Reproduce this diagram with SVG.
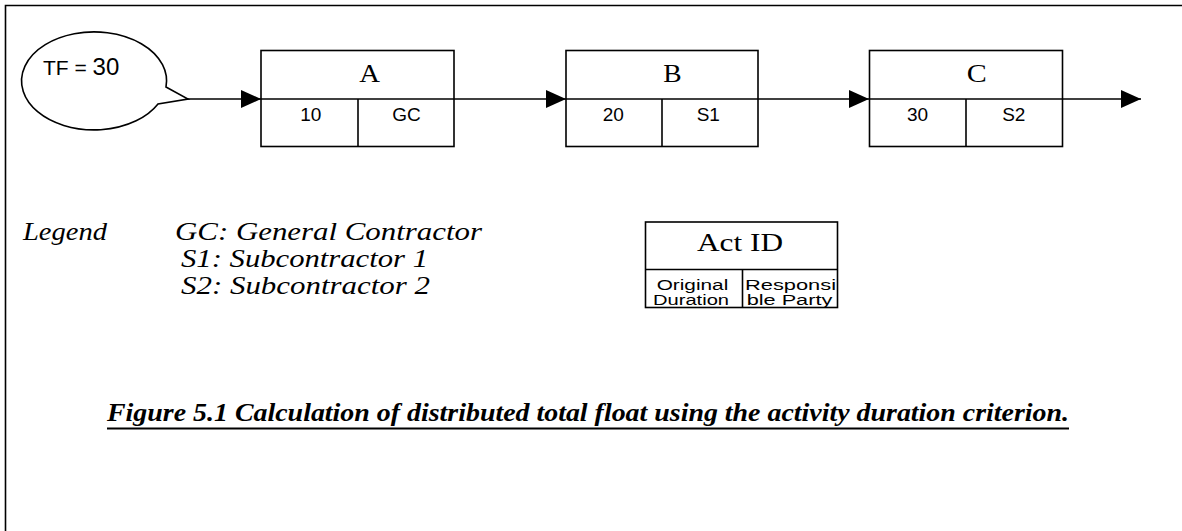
<svg xmlns="http://www.w3.org/2000/svg" width="1182" height="531" viewBox="0 0 1182 531">
<style>
.ln{stroke:#000;stroke-width:1.6;fill:none}
.bx{stroke:#000;stroke-width:1.6;fill:#fff}
.sans{font-family:"Liberation Sans",Arial,sans-serif;fill:#000}
.serif{font-family:"Liberation Serif","Times New Roman",serif;fill:#000}
.id{font-size:26px}
.num{font-size:19px;text-anchor:middle}
.key{font-size:14px}
.leg{font-size:26px;font-style:italic}
</style>
<defs>
<marker id="ah" markerWidth="20" markerHeight="18" refX="20" refY="9" orient="auto" markerUnits="userSpaceOnUse">
<path d="M0,0 L20,9 L0,18 Z" fill="#000"/>
</marker>
</defs>
<rect width="1182" height="531" fill="#fff"/>
<path class="ln" d="M5.5,531 L5.5,5.5 L1182,5.5" stroke-width="2"/>
<g id="callout">
<path class="bx" d="M166,87 L188,99 L158,104 A72.5,49 0 1 1 166,87 Z"/>
<text class="sans" x="43" y="75"><tspan font-size="21">TF = </tspan><tspan font-size="24">30</tspan></text>
</g>
<g id="connectors">
<line class="ln" x1="188" y1="99" x2="261" y2="99" marker-end="url(#ah)"/>
<line class="ln" x1="454" y1="99" x2="566" y2="99" marker-end="url(#ah)"/>
<line class="ln" x1="758" y1="99" x2="869" y2="99" marker-end="url(#ah)"/>
<line class="ln" x1="1062" y1="99" x2="1141" y2="99" marker-end="url(#ah)"/>
</g>
<g id="nodeA">
<rect class="bx" x="261" y="50.5" width="193" height="96"/>
<line class="ln" x1="261" y1="99" x2="454" y2="99"/>
<line class="ln" x1="358" y1="99" x2="358" y2="146.5"/>
<text class="serif id" x="359.3" y="81.7" textLength="20.7" lengthAdjust="spacingAndGlyphs">A</text>
<text class="sans num" x="310.8" y="120.5">10</text>
<text class="sans num" x="406.5" y="120.5">GC</text>
</g>
<g id="nodeB">
<rect class="bx" x="566" y="50.5" width="192" height="96"/>
<line class="ln" x1="566" y1="99" x2="758" y2="99"/>
<line class="ln" x1="662" y1="99" x2="662" y2="146.5"/>
<text class="serif id" x="663.3" y="81.7" textLength="18.4" lengthAdjust="spacingAndGlyphs">B</text>
<text class="sans num" x="613.3" y="120.5">20</text>
<text class="sans num" x="708.3" y="120.5">S1</text>
</g>
<g id="nodeC">
<rect class="bx" x="869.5" y="50.5" width="193" height="96"/>
<line class="ln" x1="869.5" y1="99" x2="1062.5" y2="99"/>
<line class="ln" x1="966" y1="99" x2="966" y2="146.5"/>
<text class="serif id" x="966.7" y="81.7" textLength="20" lengthAdjust="spacingAndGlyphs">C</text>
<text class="sans num" x="917.5" y="120.5">30</text>
<text class="sans num" x="1013.8" y="120.5">S2</text>
</g>
<g id="legend">
<text class="serif leg" x="23" y="240" textLength="84" lengthAdjust="spacingAndGlyphs">Legend</text>
<text class="serif leg" x="175" y="240" textLength="307" lengthAdjust="spacingAndGlyphs">GC: General Contractor</text>
<text class="serif leg" x="181" y="267" textLength="247" lengthAdjust="spacingAndGlyphs">S1: Subcontractor 1</text>
<text class="serif leg" x="181" y="294" textLength="249" lengthAdjust="spacingAndGlyphs">S2: Subcontractor 2</text>
</g>
<g id="keyNode">
<rect class="bx" x="645.5" y="222" width="192" height="85.5"/>
<line class="ln" x1="645.5" y1="269.5" x2="837.5" y2="269.5"/>
<line class="ln" x1="742.5" y1="269.5" x2="742.5" y2="307.5"/>
<text class="serif id" x="697" y="250.7" textLength="86" lengthAdjust="spacingAndGlyphs">Act ID</text>
<text class="sans key" x="656.7" y="289.5" textLength="71.6" lengthAdjust="spacingAndGlyphs">Original</text>
<text class="sans key" x="653" y="305" textLength="76" lengthAdjust="spacingAndGlyphs">Duration</text>
<text class="sans key" x="745" y="289.5" textLength="91" lengthAdjust="spacingAndGlyphs">Responsi</text>
<text class="sans key" x="746.7" y="305" textLength="85.6" lengthAdjust="spacingAndGlyphs">ble Party</text>
</g>
<g id="caption">
<text class="serif" x="107" y="421" font-size="25" font-weight="bold" font-style="italic" textLength="962" lengthAdjust="spacingAndGlyphs">Figure 5.1 Calculation of distributed total float using the activity duration criterion.</text>
<line x1="107" y1="428.5" x2="1069" y2="428.5" stroke="#000" stroke-width="2"/>
</g>
</svg>
